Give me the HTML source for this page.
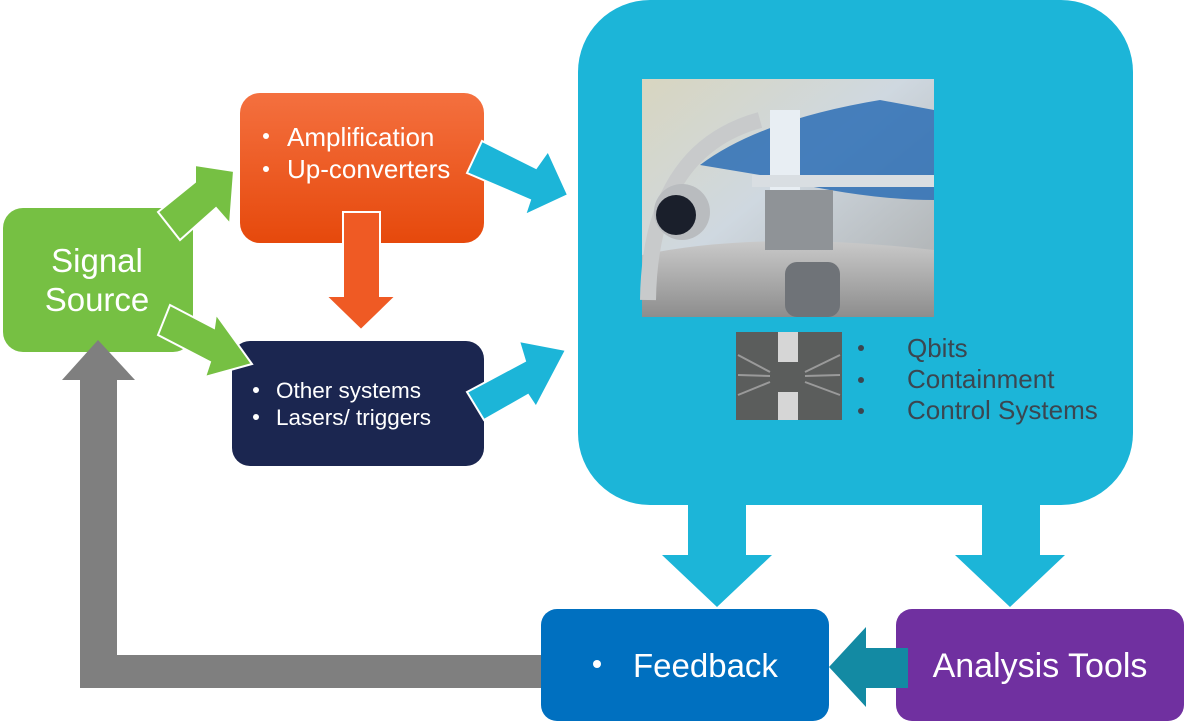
<!DOCTYPE html>
<html><head><meta charset="utf-8"><style>
html,body{margin:0;padding:0;background:#fff;}
svg{display:block;font-family:"Liberation Sans",Arial,sans-serif;}
</style></head><body>
<svg width="1184" height="721" viewBox="0 0 1184 721" xmlns="http://www.w3.org/2000/svg">
<defs>
<linearGradient id="og" x1="0" y1="0" x2="0" y2="1"><stop offset="0" stop-color="#f4703f"/><stop offset="1" stop-color="#e6490c"/></linearGradient>
<linearGradient id="ph" x1="0" y1="0" x2="1" y2="1"><stop offset="0" stop-color="#d8d6c0"/><stop offset="0.45" stop-color="#cfd8e0"/><stop offset="1" stop-color="#a9abab"/></linearGradient>
<linearGradient id="tank" x1="0" y1="0" x2="0" y2="1"><stop offset="0" stop-color="#c9c9c9"/><stop offset="1" stop-color="#8d8d8d"/></linearGradient>
</defs>
<rect x="578" y="0" width="555" height="505" rx="72" fill="#1cb5d8"/>
<rect x="642" y="79" width="292" height="238" fill="url(#ph)"/>
<path d="M700 165 Q760 120 880 100 L934 110 L934 200 Q860 200 760 175 Z" fill="#2d6fb5" opacity="0.85"/>
<path d="M642 317 L642 255 Q760 230 934 250 L934 317 Z" fill="url(#tank)"/>
<path d="M648 300 Q650 150 760 120" stroke="#c8cacb" stroke-width="16" fill="none"/>
<rect x="770" y="110" width="30" height="80" fill="#e8eef3"/>
<rect x="752" y="175" width="182" height="12" fill="#d9dee2"/>
<rect x="765" y="190" width="68" height="60" fill="#8f9397"/>
<circle cx="682" cy="212" r="28" fill="#b9bcbf"/>
<circle cx="676" cy="215" r="20" fill="#1a1f2b"/>
<rect x="785" y="262" width="55" height="55" rx="12" fill="#6f7378"/>
<rect x="736" y="332" width="106" height="88" fill="#5b5d5c"/>
<rect x="778" y="332" width="20" height="30" fill="#d6d6d6"/>
<rect x="778" y="392" width="20" height="28" fill="#d6d6d6"/>
<path d="M738 355 L770 372 M738 375 L770 376 M738 395 L770 382 M840 355 L805 372 M840 375 L805 376 M840 395 L805 382" stroke="#9a9a9a" stroke-width="2"/>
<g fill="#3b4650" font-size="26">
<circle cx="861" cy="348" r="3"/><circle cx="861" cy="380" r="3"/><circle cx="861" cy="411" r="3"/>
<text x="907" y="357">Qbits</text><text x="907" y="388">Containment</text><text x="907" y="419">Control Systems</text>
</g>
<rect x="3" y="208" width="190" height="144" rx="20" fill="#76c043"/>
<text x="97" y="272" fill="#fff" font-size="33" text-anchor="middle">Signal</text>
<text x="97" y="311" fill="#fff" font-size="33" text-anchor="middle">Source</text>
<rect x="240" y="93" width="244" height="150" rx="20" fill="url(#og)"/>
<g fill="#fff" font-size="26"><circle cx="266" cy="136" r="3"/><circle cx="266" cy="169" r="3"/>
<text x="287" y="146">Amplification</text><text x="287" y="178">Up-converters</text></g>
<rect x="232" y="341" width="252" height="125" rx="18" fill="#1b2650"/>
<g fill="#fff" font-size="22.5"><circle cx="256" cy="390" r="3"/><circle cx="256" cy="417" r="3"/>
<text x="276" y="398">Other systems</text><text x="276" y="425">Lasers/ triggers</text></g>
<polygon points="343,212 380,212 380,296 396,296 361,330 326,296 343,296" fill="#ef5a24" stroke="#fff" stroke-width="2"/>
<polygon points="158,212 195,182 195,165 234,171 230,224 216,208 180,240" fill="#76c043" stroke="#fff" stroke-width="2"/>
<polygon points="170,305 214,328 216,314 252,364 205,377 210,362 158,335" fill="#76c043" stroke="#fff" stroke-width="2"/>
<polygon points="467,173 482,141 536,168 548,151 568,195 525,215 530,200" fill="#1cb5d8" stroke="#fff" stroke-width="2"/>
<polygon points="467,392 484,420 528,395 536,407 566,350 519,341 525,361" fill="#1cb5d8" stroke="#fff" stroke-width="2"/>
<polygon points="688,505 746,505 746,555 772,555 717,607 662,555 688,555" fill="#1cb5d8"/>
<polygon points="982,505 1040,505 1040,555 1065,555 1010,607 955,555 982,555" fill="#1cb5d8"/>
<polygon points="541,655 541,688 80,688 80,380 62,380 98,340 135,380 117,380 117,655" fill="#7f7f7f"/>
<rect x="541" y="609" width="288" height="112" rx="16" fill="#0070c0"/>
<circle cx="597" cy="664" r="4" fill="#fff"/>
<text x="633" y="677" fill="#fff" font-size="33">Feedback</text>
<rect x="896" y="609" width="288" height="112" rx="16" fill="#7030a0"/>
<text x="1040" y="677" fill="#fff" font-size="34" text-anchor="middle">Analysis Tools</text>
<polygon points="908,648 908,688 866,688 866,707 829,667 866,627 866,648" fill="#138aa3"/>
</svg>
</body></html>
